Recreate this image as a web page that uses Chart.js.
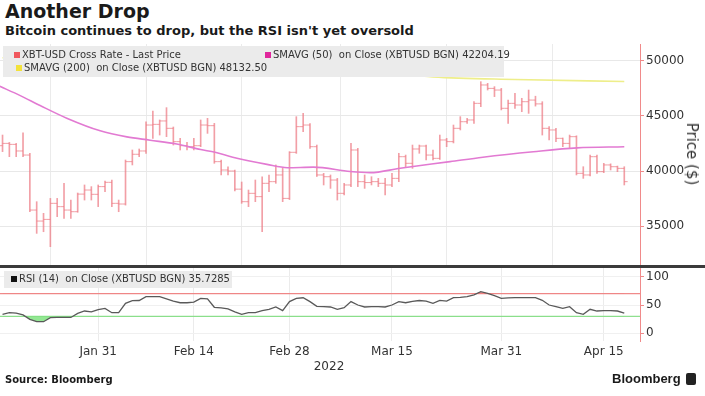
<!DOCTYPE html>
<html>
<head>
<meta charset="utf-8">
<script src="https://cdn.jsdelivr.net/npm/chart.js@4.4.1/dist/chart.umd.min.js"></script>
<style>
  body { margin: 0; width: 705px; height: 396px; background: #fff; position: relative; overflow: hidden;
         font-family: 'DejaVu Sans', sans-serif; color: #1a1a1a; }
  .abs { position: absolute; white-space: pre; }
  #title { left: 5px; top: 0px; font-size: 19px; font-weight: bold; }
  #subtitle { left: 5px; top: 23px; font-size: 13px; font-weight: bold; }
  #price { position: absolute; left: 0; top: 44px; }
  #rsi { position: absolute; left: 0; top: 268px; }
  #sep { left: 0; top: 265px; width: 705px; height: 3px; background: #3b3b3b; }
  .legend { background: #ebebeb; font-size: 10px; color: #333; }
  .sq { display: inline-block; width: 6px; height: 6px; margin-right: 2px; vertical-align: 0px; }
  #ylab { left: 692px; top: 154px; font-size: 15px; color: #333; transform: translate(-50%, -50%) rotate(90deg); }
  #year { left: 329px; top: 359px; font-size: 12px; color: #333; transform: translateX(-50%); }
  #source { left: 5px; top: 374px; font-size: 10px; font-weight: bold; }
  #brand { left: 612px; top: 371px; font-family: 'Liberation Sans', sans-serif; font-size: 13px; font-weight: bold; }
  #logo { left: 686px; top: 373px; width: 10px; height: 12px; background: #222; border-radius: 2px; }
</style>
</head>
<body>
<div class="abs" id="title">Another Drop</div>
<div class="abs" id="subtitle">Bitcoin continues to drop, but the RSI isn't yet oversold</div>

<canvas id="price" width="705" height="222"></canvas>
<canvas id="rsi" width="705" height="110"></canvas>
<div class="abs" id="sep"></div>

<div class="abs legend" style="left:3px;top:46px;width:501px;height:31px;">
  <span class="abs" style="left:11px;top:3px;"><span class="sq" style="background:#f0585e"></span>XBT-USD Cross Rate - Last Price</span>
  <span class="abs" style="left:262px;top:3px;"><span class="sq" style="background:#e0279c"></span>SMAVG (50)  on Close (XBTUSD BGN) 42204.19</span>
  <span class="abs" style="left:13px;top:16px;"><span class="sq" style="background:#f3e23a"></span>SMAVG (200)  on Close (XBTUSD BGN) 48132.50</span>
</div>
<div class="abs legend" style="left:4px;top:271px;width:228px;height:17px;">
  <span class="abs" style="left:7px;top:2px;"><span class="sq" style="background:#111"></span>RSI (14)  on Close (XBTUSD BGN) 35.7285</span>
</div>

<div class="abs" id="ylab">Price ($)</div>
<div class="abs" id="year">2022</div>
<div class="abs" id="source">Source: Bloomberg</div>
<div class="abs" id="brand">Bloomberg</div>
<div class="abs" id="logo"></div>

<script>
// daily bars from Jan 17 2022 (index 0) to Apr 18 2022 (index 91)
var tickDays = [14, 28, 42, 57, 73, 88];
var tickLabels = ['Jan 31', 'Feb 14', 'Feb 28', 'Mar 15', 'Mar 31', 'Apr 15'];
var priceTicks = [35000, 40000, 45000, 50000];
var rsiTicks = [0, 50, 100];
var rsiLevels = [70, 30];

var openPx = [42300,42510,42420,41820,41450,36450,35450,35600,37060,36760,36450,36300,37900,38270,37880,38580,
  38970,37060,37000,40850,41520,41820,44180,44240,44550,43880,42670,42300,42210,42300,44180,44120,40850,40090,
  40000,38350,37210,37970,37670,38880,39030,39640,37510,41700,44030,44180,42210,39640,39480,39180,37970,38730,
  41910,39030,38950,39030,38880,38730,39330,41300,40700,42000,42270,41450,41150,42820,42670,43880,44480,44640,
  46150,47820,47510,47360,45700,46150,46000,46300,46450,46100,43880,43730,42970,42510,43120,39790,39640,41300,
  39940,40550,40390,40240];
var highPx = [43270,42600,42510,43480,41600,37210,36150,37510,37510,38880,37360,38000,38730,38580,38730,39090,
  39180,37360,41000,41910,42000,44480,45450,44640,45760,44000,42970,42600,42970,44640,44790,44330,41000,40390,
  40090,39000,38270,39180,39480,39640,40550,40240,41760,44940,45240,44300,42360,39790,39640,39330,38880,42510,
  42060,39640,39480,39330,39330,39790,41610,41450,42360,42360,42360,41910,43270,42970,44180,44940,44790,46300,
  48120,47970,47670,47510,46450,47060,46610,47360,46800,46300,44030,43880,43000,43270,43200,40390,41450,41450,
  40700,40650,40450,40390];
var lowPx = [41760,41300,41300,41300,36300,34330,34480,33120,35850,35700,35700,36250,37360,37360,36760,38120,
  36760,36300,36900,40550,41300,41600,42970,43270,43120,42360,41910,41910,41910,42210,43420,40700,39640,39640,
  38200,37060,36760,37210,34480,38120,38880,37210,37400,41600,43570,42060,39500,38730,38420,37360,37820,38580,
  38580,38420,38730,38580,37820,38580,39030,40390,40240,41610,41000,41000,41050,42210,42550,43730,44330,44330,
  45850,47360,46760,45550,44330,45700,45390,45240,45900,43270,42820,42670,42210,42060,39640,39330,39550,39790,
  39850,40090,39940,38730];
var closePx = [42510,42420,41820,41450,36450,35450,35600,37060,36760,36450,36300,37900,38270,37880,38580,38970,
  37060,37000,40850,41520,41820,44180,44240,44550,43880,42670,42300,42210,42300,44180,44120,40850,40090,40000,
  38350,37210,37970,37670,38880,39030,39640,37510,41700,44030,44180,42210,39640,39480,39180,37970,38730,41910,
  39030,38950,39030,38880,38730,39330,41300,40700,42000,42270,41450,41150,42820,42670,43880,44480,44640,46150,
  47820,47510,47360,45700,46150,46000,46300,46450,46100,43880,43730,42970,42510,43120,39790,39640,41300,39940,
  40550,40390,40240,39030];

var sma50Days = [-0.4, 2.6, 5.5, 9.4, 14.3, 18.2, 21.6, 25.5, 29, 31.1, 33.7, 38.7, 41.7, 45.5, 50.9, 53.8, 58.2, 65.5, 70.3, 77.7, 84.1, 91];
var sma50 = [47700, 46850, 45950, 44800, 43650, 43100, 42800, 42450, 41950, 41700, 41250, 40600, 40300, 40350, 39950, 39850, 40250, 40850, 41250, 41750, 42100, 42204];
var sma200Days = [0, 30, 55, 63, 75, 91];
var sma200 = [50300, 49600, 49050, 48560, 48320, 48133];

var rsi14 = [33.6,36.4,35.5,32.5,24.7,20.5,20.5,27.6,28,28,28,35.3,39.4,38,42,44,36.4,36.4,53,57.6,58,64.7,64.7,
  64.7,61,57,54,54,55,61.8,61,46,45,43,38,33.6,36.4,36.4,40,42.4,46.5,40,56,61.8,62.8,56,47.7,47,46.5,42.4,45.3,
  56,50,46.5,47,47,46.5,50,56,54,56.5,58,57,53,58.3,57,62.9,63.5,64.7,68,73.5,70.6,66.4,61.8,62.5,62.9,62.9,
  62.9,62.9,58.3,50,47,44,47,36.4,33.6,42.4,39.4,40,40,39.4,35.7];

var xMin = -0.37, xMax = 93.3;
var barColor = 'rgba(236, 118, 128, 0.7)';
var axisRed = '#f08a8a';
var tickFont = { family: 'DejaVu Sans', size: 12 };

function xy(xs, ys) {
  return xs.map(function (x, i) { return { x: x, y: ys[i] }; });
}
var dayIdx = closePx.map(function (v, i) { return i; });

function dayAxis(showLabels) {
  return {
    type: 'linear', min: xMin, max: xMax, offset: false,
    afterBuildTicks: function (s) { s.ticks = tickDays.map(function (d) { return { value: d }; }); },
    afterFit: function (s) { s.height = showLabels ? 37 : 0; s.paddingLeft = 0; s.paddingRight = 0; },
    grid: { color: '#ebebeb', drawTicks: false },
    border: { display: false },
    ticks: {
      display: showLabels, autoSkip: false, maxRotation: 0, padding: 4, color: '#333', font: tickFont,
      callback: function (v) { var k = tickDays.indexOf(v); return k >= 0 ? tickLabels[k] : ''; }
    }
  };
}

function rightAxis(min, max, tickVals, gridColor) {
  return {
    position: 'right', min: min, max: max,
    afterBuildTicks: function (s) { s.ticks = tickVals.map(function (v) { return { value: v }; }); },
    afterFit: function (s) { s.width = 65; s.paddingTop = 0; s.paddingBottom = 0; },
    grid: { color: gridColor, tickColor: axisRed, tickLength: 4 },
    border: { color: axisRed, width: 1 },
    ticks: { padding: 2, color: '#333', font: tickFont,
             callback: function (v) { return String(v); } }
  };
}

var common = {
  responsive: false, animation: false, devicePixelRatio: 1,
  layout: { padding: 0, autoPadding: false },
  plugins: { legend: { display: false }, tooltip: { enabled: false } }
};

new Chart(document.getElementById('price'), {
  type: 'bar',
  data: {
    datasets: [
      { type: 'line', data: xy(sma50Days, sma50), borderColor: '#e27ad2', borderWidth: 1.6,
        pointRadius: 0, cubicInterpolationMode: 'monotone', order: 0 },
      { type: 'line', data: xy(sma200Days, sma200), borderColor: '#eeee8a', borderWidth: 1.6,
        pointRadius: 0, cubicInterpolationMode: 'monotone', order: 1 },
      { type: 'bar', data: dayIdx.map(function (i) { return { x: i, y: [lowPx[i], highPx[i]] }; }),
        backgroundColor: barColor, barThickness: 1, order: 2 },
      { type: 'line', data: xy(dayIdx, openPx), showLine: false, pointStyle: 'dash', pointRadius: 3.4,
        pointRotation: 180, pointBorderColor: barColor, pointBorderWidth: 1, order: 2 },
      { type: 'line', data: xy(dayIdx, closePx), showLine: false, pointStyle: 'dash', pointRadius: 3.4,
        pointRotation: 0, pointBorderColor: barColor, pointBorderWidth: 1, order: 2 }
    ]
  },
  options: Object.assign({}, common, {
    scales: {
      x: dayAxis(false),
      y: rightAxis(31364, 51545, priceTicks, '#e8e8e8')
    }
  })
});

var rsiPoints = xy(dayIdx, rsi14);
new Chart(document.getElementById('rsi'), {
  type: 'line',
  data: {
    datasets: [
      { data: rsiPoints, borderColor: '#595959', borderWidth: 1.3, pointRadius: 0, order: 0,
        fill: { target: { value: rsiLevels[1] }, above: 'rgba(0,0,0,0)', below: 'rgba(120,225,120,0.8)' } },
      { data: rsiPoints, borderColor: 'rgba(0,0,0,0)', borderWidth: 1, pointRadius: 0, order: 1,
        fill: { target: { value: rsiLevels[0] }, above: 'rgba(240,110,110,0.6)', below: 'rgba(0,0,0,0)' } },
      { data: [{ x: xMin, y: rsiLevels[0] }, { x: xMax, y: rsiLevels[0] }], borderColor: axisRed,
        borderWidth: 1.2, pointRadius: 0, order: 2 },
      { data: [{ x: xMin, y: rsiLevels[1] }, { x: xMax, y: rsiLevels[1] }], borderColor: '#8fe08f',
        borderWidth: 1.2, pointRadius: 0, order: 2 }
    ]
  },
  options: Object.assign({}, common, {
    scales: {
      x: dayAxis(true),
      y: rightAxis(-13.6, 115.4, rsiTicks, '#f0f0f0')
    }
  })
});
</script>
</body>
</html>
